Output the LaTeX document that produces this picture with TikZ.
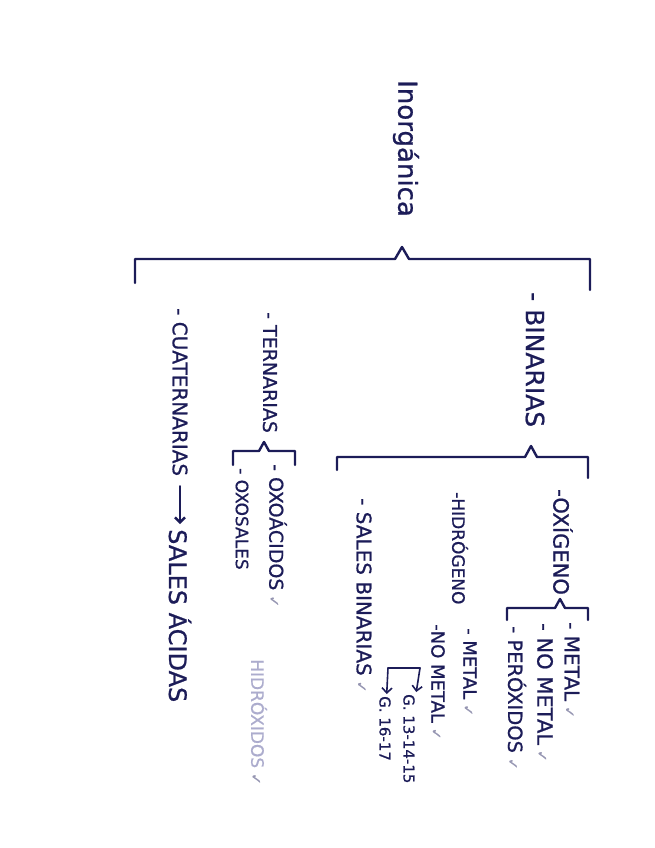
\documentclass[tikz,border=0pt]{standalone}
\usepackage{fontspec}
\setmainfont{DejaVu Sans}[FakeBold=0.8]
\usepackage{tikz}
\usetikzlibrary{arrows.meta, calc}

\definecolor{ink}{RGB}{28,28,88}
\definecolor{tickgray}{RGB}{150,150,178}
\definecolor{pencil}{RGB}{172,172,205}
\newcommand{\okmark}{\hspace{5pt}{\color{tickgray}\fontsize{14}{14}\selectfont ✓}}

\begin{document}
\begin{tikzpicture}[
    x=1pt, y=-1pt,
    line width=2.4pt, line cap=round, line join=round,
    txt/.style={rotate=-90, anchor=west, inner sep=1pt, text=ink, font=\fontsize{#1}{#1}\selectfont},
    faint/.style={txt=#1, text=pencil},
    brace/.style={draw=ink},
    arr/.style={draw=ink, -{Straight Barb[length=5pt,width=10pt]}}
  ]
  \useasboundingbox (0,0) rectangle (655,848);

  % root and first level
  \node[txt=26] (inorg) at (406,78) {Inorgánica};
  \node[txt=25] (bin) at (535,290) {- BINARIAS};
  \node[txt=19] (ter) at (270,310) {- TERNARIAS};
  \node[txt=20] (cuat) at (180,306) {- CUATERNARIAS};
  \node[txt=24] (acid) at (180,527) {SALES ÁCIDAS};

  % binarias
  \node[txt=21] (oxi) at (563,487) {-OXÍGENO};
  \node[txt=17] (hid) at (460,490) {-HIDRÓGENO};
  \node[txt=20] (sal) at (364,496) {- SALES BINARIAS\okmark};

  \node[txt=20] (ometal) at (572,620) {- METAL\okmark};
  \node[txt=21] (ono) at (545,621) {- NO METAL\okmark};
  \node[txt=19.5] (oper) at (517,624) {- PERÓXIDOS\okmark};

  \node[txt=18] (hmetal) at (470,626) {- METAL\okmark};
  \node[txt=18] (hno) at (438,622) {-NO METAL\okmark};
  \node[txt=15] (g1) at (409,692) {G. 13-14-15};
  \node[txt=15] (g2) at (385,694) {G. 16-17};

  % ternarias
  \node[txt=19] (oxac) at (278,462) {- OXOÁCIDOS\okmark};
  \node[txt=17] (oxsa) at (242,466) {- OXOSALES};
  \node[faint=17] (hidrox) at (259,657) {HIDRÓXIDOS\okmark};

  % brackets
  \coordinate (inSp) at (402,247);
  \coordinate (inL) at (135,283);
  \coordinate (inR) at (590,290);
  \draw[brace] (inL) |- ($(inSp)+(-7,12)$) -- (inSp) -- ($(inSp)+(7,12)$) -| (inR);

  \coordinate (binSp) at (531,446);
  \coordinate (binL) at (337,470);
  \coordinate (binR) at (588,478);
  \draw[brace] (binL) |- ($(binSp)+(-6,11)$) -- (binSp) -- ($(binSp)+(6,11)$) -| (binR);

  \coordinate (oxiSp) at (560,599);
  \coordinate (oxiL) at (507,620);
  \coordinate (oxiR) at (588,620);
  \draw[brace] (oxiL) |- ($(oxiSp)+(-5,9)$) -- (oxiSp) -- ($(oxiSp)+(5,9)$) -| (oxiR);

  \coordinate (terSp) at (264,442);
  \coordinate (terL) at (233,465);
  \coordinate (terR) at (295,465);
  \draw[brace] (terL) |- ($(terSp)+(-5,9)$) -- (terSp) -- ($(terSp)+(5,9)$) -| (terR);

  % arrows
  \coordinate (gR) at (420,668);
  \coordinate (gL) at (388,668);
  \draw[brace, line width=1.6pt] (gR) -- (gL);
  \draw[arr, line width=1.6pt] (gR) -- (g1);
  \draw[arr, line width=1.6pt] (gL) -- (g2);
  \draw[arr, shorten <=8pt, shorten >=3pt] (cuat) -- (acid);
\end{tikzpicture}
\end{document}
